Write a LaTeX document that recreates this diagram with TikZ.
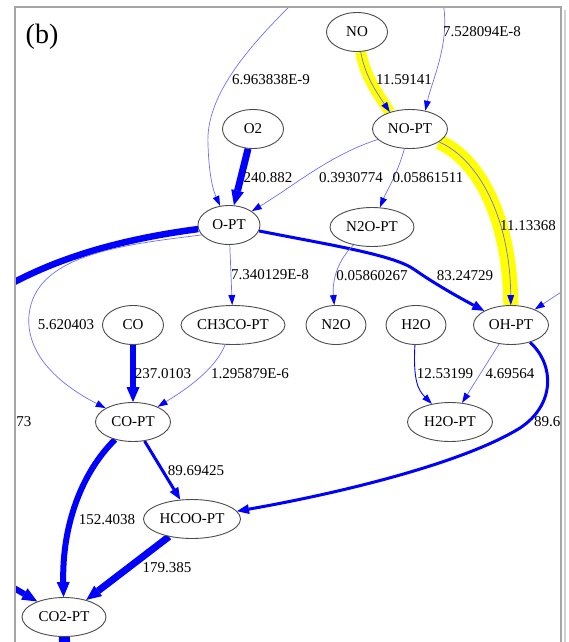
\documentclass[tikz,border=0pt]{standalone}
\usepackage{fontspec}
\setmainfont{Liberation Serif}
\usetikzlibrary{arrows.meta,shapes.geometric}
\pgfdeclarelayer{edges}
\pgfsetlayers{edges,main}
\definecolor{eblue}{RGB}{0,0,255}
\definecolor{lblue}{RGB}{110,110,255}
\definecolor{hly}{RGB}{255,255,0}
\definecolor{frgray}{RGB}{165,165,165}
\definecolor{shgray}{RGB}{210,210,210}
\tikzset{
  sp/.style={ellipse, draw=black!70, line width=0.9pt, fill=white, minimum height=39pt, inner sep=0pt, font=\fontsize{15}{18}\selectfont},
  lbl/.style={inner sep=0pt, font=\fontsize{15}{18}\selectfont},
  ethin/.style={draw=lblue, line width=0.7pt, -{Triangle[length=10pt,width=7pt,line width=0pt,color=eblue]}},
  ethinb/.style={draw=eblue, line width=0.9pt, -{Triangle[length=10pt,width=7pt,line width=0pt]}},
  emid/.style={draw=eblue, line width=3pt, -{Triangle[length=12pt,width=10pt,line width=0pt]}},
  ethick/.style={draw=eblue, line width=#1, -{Triangle[length=15pt,width=13pt,line width=0pt]}},
  eplain/.style={draw=eblue, line width=#1},
  hl/.style={draw=hly, line width=#1},
}
\begin{document}
\begin{tikzpicture}[x=1pt,y=-1pt]
\useasboundingbox (0,0) rectangle (568,642);
% species nodes
\node[sp, minimum width=61pt] (no) at (357,32) {NO};
\node[sp, minimum width=75pt] (nopt) at (410,129) {NO-PT};
\node[sp, minimum width=61pt] (o2) at (253,129) {O2};
\node[sp, minimum width=62pt] (opt) at (229,225) {O-PT};
\node[sp, minimum width=84pt] (n2opt) at (372,227) {N2O-PT};
\node[sp, minimum width=61pt] (co) at (133,325) {CO};
\node[sp, minimum width=104pt] (ch3copt) at (233,325) {CH3CO-PT};
\node[sp, minimum width=60pt] (n2o) at (336,325) {N2O};
\node[sp, minimum width=60pt] (h2o) at (416,325) {H2O};
\node[sp, minimum width=75pt] (ohpt) at (511,325) {OH-PT};
\node[sp, minimum width=75pt] (copt) at (133,422) {CO-PT};
\node[sp, minimum width=85pt] (h2opt) at (450,422) {H2O-PT};
\node[sp, minimum width=97pt] (hcoopt) at (192,519) {HCOO-PT};
\node[sp, minimum width=84pt] (co2pt) at (64,617) {CO2-PT};
% free ends outside the frame
\coordinate (topa) at (298,-2);
\coordinate (topb) at (442,-2);
\coordinate (rightin) at (575,283);
\coordinate (leftout) at (0,290);
\coordinate (leftin) at (-5,577);
\coordinate (botout) at (65,665);
\begin{pgfonlayer}{edges}
\begin{scope}
\clip (15,7) rectangle (561,642);
% highlights
\draw[hl=11pt] (no) .. controls (365,75) and (375,90) .. (nopt.140);
\draw[hl=15pt] (nopt) .. controls (480,160) and (510,220) .. (ohpt);
% edges
\draw[ethin] (topa) .. controls (250,45) and (205,95) .. (208,145) .. controls (209,175) and (213,190) .. (opt.115);
\draw[ethick=7pt] (o2) -- (opt);
\draw[ethin] (nopt) .. controls (330,155) and (295,185) .. (opt);
\draw[ethin] (nopt) .. controls (397,175) and (387,190) .. (n2opt);
\draw[ethin] (no) .. controls (365,75) and (375,90) .. (nopt.140);
\draw[ethin] (topb) .. controls (452,40) and (432,80) .. (nopt.50);
\draw[ethin] (nopt) .. controls (480,160) and (510,220) .. (ohpt);
\draw[emid] (opt) .. controls (330,245) and (395,255) .. (415,270) .. controls (435,284) and (460,298) .. (ohpt);
\draw[eplain=6.5pt] (opt) .. controls (130,238) and (60,255) .. (leftout);
\draw[ethin] (opt.200) .. controls (120,245) and (35,255) .. (29,315) .. controls (25,360) and (70,390) .. (copt);
\draw[ethin] (opt) -- (ch3copt);
\draw[ethick=6.5pt] (co) -- (copt);
\draw[ethin] (ch3copt) .. controls (215,370) and (185,390) .. (copt);
\draw[ethin] (n2opt) .. controls (338,260) and (332,280) .. (n2o);
\draw[ethinb] (h2o) .. controls (413,380) and (418,390) .. (h2opt);
\draw[ethin] (ohpt) -- (h2opt);
\draw[ethin] (rightin) -- (ohpt);
\draw[emid] (ohpt) .. controls (555,365) and (555,405) .. (520,428) .. controls (460,465) and (330,495) .. (hcoopt);
\draw[ethick=6pt] (copt) .. controls (82,472) and (62,525) .. (co2pt);
\draw[emid] (copt) -- (hcoopt);
\draw[ethick=7pt] (hcoopt) -- (co2pt);
\draw[ethick=6pt] (leftin) -- (co2pt);
\draw[eplain=11pt] (co2pt) -- (botout);
\end{scope}
\end{pgfonlayer}
% edge labels
\begin{scope}
\clip (15,7) rectangle (561,642);
\node[lbl] (l1) at (271,80) {6.963838E-9};
\node[lbl] (l2) at (268,178) {240.882};
\node[lbl] (l3) at (404,80) {11.59141};
\node[lbl] (l4) at (482,32) {7.528094E-8};
\node[lbl] (l5) at (351,178) {0.3930774};
\node[lbl] (l6) at (428,178) {0.05861511};
\node[lbl] (l7) at (528,226) {11.13368};
\node[lbl] (l8) at (270,275) {7.340129E-8};
\node[lbl] (l9) at (372,276) {0.05860267};
\node[lbl] (l10) at (465,276) {83.24729};
\node[lbl] (l11) at (66,325) {5.620403};
\node[lbl] (l12) at (163,374) {237.0103};
\node[lbl] (l13) at (250,374) {1.295879E-6};
\node[lbl] (l14) at (445,374) {12.53199};
\node[lbl] (l15) at (510,374) {4.69564};
\node[lbl, anchor=east] (l16) at (31.5,422) {73};
\node[lbl, anchor=west] (l17) at (534,422) {89.6};
\node[lbl] (l18) at (107,520) {152.4038};
\node[lbl] (l19) at (196,471) {89.69425};
\node[lbl] (l20) at (167,568) {179.385};
\end{scope}
\node[inner sep=0pt, font=\fontsize{28}{32}\selectfont] (tag) at (42,37) {(b)};
% frame
\draw[shgray, line width=2pt] (564.5,10) -- (564.5,650);
\draw[frgray, line width=1.8pt] (15,650) -- (15,7) -- (561,7) -- (561,650);
\end{tikzpicture}
\end{document}
